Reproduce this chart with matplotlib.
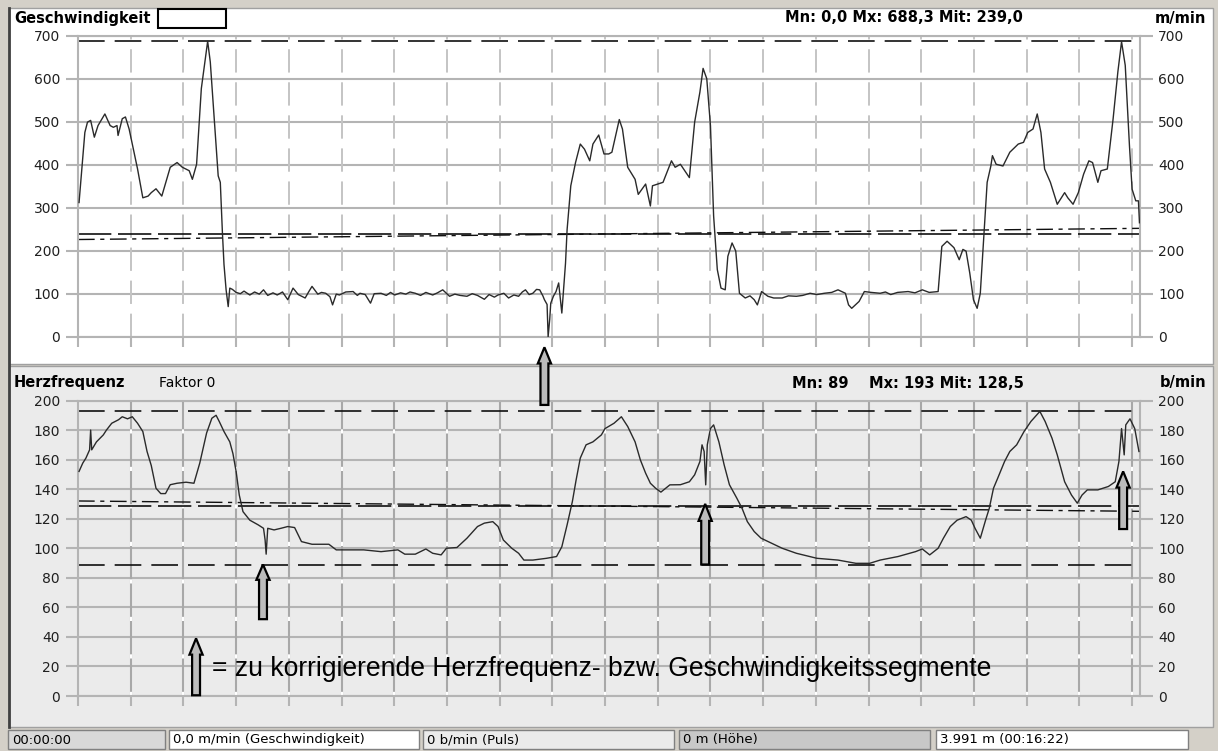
import numpy as np
import matplotlib.pyplot as plt
from matplotlib.patches import Rectangle, FancyArrow

# --- data (x in grid sections, 20 sections over the whole run) ---
speed_x = [0.02, 0.13, 0.18, 0.24, 0.31, 0.38, 0.51, 0.61, 0.67, 0.74, 0.76, 0.84, 0.90, 0.97,
           1.03, 1.13, 1.23, 1.33, 1.39, 1.48, 1.59, 1.75, 1.88, 1.98, 2.11, 2.17, 2.25, 2.34,
           2.46, 2.51, 2.66, 2.70, 2.74, 2.77, 2.81, 2.85, 2.88, 2.93, 3.00, 3.08, 3.15, 3.26,
           3.35, 3.44, 3.52, 3.60, 3.70, 3.78, 3.88, 3.98, 4.08, 4.18, 4.31, 4.38, 4.44, 4.55,
           4.62, 4.70, 4.78, 4.83, 4.90, 4.96, 5.08, 5.22, 5.30, 5.35, 5.45, 5.55, 5.62, 5.75,
           5.85, 5.93, 6.01, 6.12, 6.22, 6.30, 6.40, 6.50, 6.60, 6.73, 6.82, 6.92, 7.05, 7.15,
           7.25, 7.38, 7.48, 7.58, 7.71, 7.80, 7.90, 7.97, 8.08, 8.17, 8.27, 8.36, 8.43, 8.49,
           8.56, 8.63, 8.70, 8.76, 8.82, 8.85, 8.90, 8.92, 8.95, 8.97, 9.02, 9.07, 9.12, 9.18,
           9.25, 9.28, 9.35, 9.44, 9.53, 9.61, 9.71, 9.77, 9.88, 9.98, 10.07, 10.13, 10.27,
           10.33, 10.43, 10.57, 10.63, 10.77, 10.86, 10.90, 11.10, 11.26, 11.33, 11.43, 11.60,
           11.70, 11.80, 11.86, 11.93, 12.00, 12.06, 12.13, 12.20, 12.28, 12.33, 12.41, 12.48,
           12.55, 12.66, 12.75, 12.83, 12.89, 12.97, 13.09, 13.20, 13.36, 13.48, 13.63, 13.75,
           13.89, 14.02, 14.16, 14.30, 14.42, 14.56, 14.62, 14.68, 14.82, 14.92, 15.05, 15.22,
           15.32, 15.42, 15.55, 15.75, 15.88, 16.02, 16.15, 16.32, 16.39, 16.49, 16.62, 16.72,
           16.79, 16.85, 16.92, 16.99, 17.06, 17.12, 17.19, 17.25, 17.32, 17.35, 17.42, 17.55,
           17.68, 17.84, 17.94, 18.02, 18.12, 18.20, 18.27, 18.34, 18.45, 18.58, 18.72, 18.78,
           18.88, 18.98, 19.08, 19.18, 19.25, 19.35, 19.41, 19.53, 19.64, 19.73, 19.80, 19.87,
           19.95, 20.00, 20.07, 20.12, 20.14]
speed_v = [312, 475, 499, 503, 464, 491, 518, 491, 487, 491, 468, 507, 511, 483,
           448, 390, 323, 327, 335, 344, 327, 394, 405, 394, 386, 366, 401, 577,
           687, 639, 374, 359, 242, 168, 109, 70, 113, 110, 103, 100, 106, 97,
           104, 99, 109, 96, 102, 97, 104, 86, 113, 98, 90, 105, 117, 99,
           103, 101, 93, 74, 99, 97, 104, 105, 96, 101, 98, 78, 100, 101,
           96, 103, 97, 102, 99, 104, 101, 96, 103, 97, 102, 109, 94, 99,
           96, 94, 100, 96, 87, 98, 92, 97, 101, 90, 97, 94, 104, 109,
           98, 101, 110, 109, 95, 86, 75, 0, 40, 78, 94, 105, 125, 55,
           171, 249, 351, 405, 448, 436, 409, 448, 469, 425, 425, 429, 505,
           483, 394, 366, 331, 355, 304, 351, 359, 409, 394, 401, 370,
           499, 569, 624, 600, 491, 281, 156, 113, 109, 187, 218, 199,
           101, 90, 95, 86, 74, 105, 94, 90, 90, 95, 94, 96,
           101, 98, 101, 103, 109, 101, 74, 66, 82, 105, 103, 101,
           104, 98, 103, 105, 102, 109, 103, 105, 210, 222, 207, 179,
           203, 199, 148, 86, 66, 101, 242, 359, 397, 421, 401, 397,
           429, 448, 452, 475, 483, 518, 475, 390, 359, 308, 335, 323,
           308, 335, 378, 409, 405, 359, 386, 390, 507, 616, 686, 631,
           444, 343, 316, 316, 265]

hr_x = [0.02, 0.09, 0.15, 0.22, 0.24, 0.26, 0.35, 0.48, 0.54, 0.64, 0.77, 0.84, 0.94, 1.03,
        1.13, 1.23, 1.31, 1.39, 1.48, 1.57, 1.66, 1.75, 1.88, 2.05, 2.20, 2.31, 2.44, 2.54,
        2.62, 2.68, 2.77, 2.88, 2.94, 3.00, 3.06, 3.13, 3.26, 3.42, 3.52, 3.55, 3.57, 3.60,
        3.72, 3.85, 3.98, 4.11, 4.24, 4.44, 4.76, 4.90, 5.09, 5.42, 5.75, 6.07, 6.20, 6.40,
        6.60, 6.73, 6.89, 6.99, 7.19, 7.38, 7.58, 7.71, 7.87, 7.97, 8.07, 8.23, 8.36, 8.46,
        8.63, 8.89, 9.08, 9.18, 9.28, 9.38, 9.45, 9.53, 9.64, 9.77, 9.93, 10.00, 10.17,
        10.31, 10.43, 10.57, 10.67, 10.77, 10.86, 10.96, 11.06, 11.23, 11.43, 11.60, 11.70,
        11.80, 11.84, 11.88, 11.91, 11.94, 12.00, 12.06, 12.16, 12.26, 12.36, 12.50, 12.60,
        12.70, 12.83, 12.96, 13.16, 13.36, 13.63, 14.02, 14.42, 14.76, 15.02, 15.22, 15.56,
        15.89, 16.02, 16.16, 16.32, 16.42, 16.55, 16.68, 16.85, 16.95, 17.02, 17.12, 17.22,
        17.29, 17.37, 17.45, 17.58, 17.68, 17.81, 17.95, 18.08, 18.25, 18.35, 18.48, 18.58,
        18.72, 18.85, 18.96, 19.05, 19.15, 19.35, 19.55, 19.68, 19.75, 19.80, 19.85, 19.88,
        19.96, 20.05, 20.13]
hr_v = [152, 157.6, 161, 166.6, 180, 166.6, 172, 176.7, 180, 184.6, 187, 189, 187.6, 189,
        184.6, 179, 165.5, 156, 140.6, 137, 137, 143, 144, 144.7, 144, 157.6, 178, 188,
        190, 185.8, 179, 172, 164, 152, 136, 124.8, 119, 115.8, 113.5, 105.6, 96, 113.5,
        112.4, 113.5, 114.7, 114, 104.5, 102.7, 102.7, 98.9, 98.9, 98.9, 97.7, 98.9, 96, 96,
        99.5, 96.6, 95.5, 100, 100.5, 106.8, 114.7, 117, 118, 114.7, 105.6, 100, 96.6, 92,
        92, 93.2, 94.4, 101, 115.8, 131.6, 146, 161, 170, 172, 176.7, 181, 184.6,
        189, 182.4, 172, 159.8, 150.8, 144, 140.6, 138, 142.9, 143, 145, 149.7,
        158.7, 170, 165.5, 142.9, 170, 181, 183.5, 172, 156.4, 143, 133.9, 127,
        118, 111.3, 106.8, 103.4, 100, 96.6, 93.2, 92, 89.8, 89.8, 92, 94.4,
        97.7, 99.5, 95.5, 100, 106.8, 114.7, 119, 121.4, 119, 113.5, 106.8, 119,
        127, 140.6, 147.4, 158.7, 165.5, 170, 179, 185.8, 192.6, 185.8, 174.5, 163.2,
        145, 136, 130.5, 136, 139.5, 139.5, 141.8, 145, 158.7, 181, 163.2, 183.5,
        187.6, 181, 165.5]

speed_stats = {'mn': 0.0, 'mx': 688.3, 'mit': 239.0}
speed_trend = [226, 252]          # dash-dot trend line, start / end
hr_stats = {'mn': 89, 'mx': 193, 'mit': 128.5}
hr_trend = [132, 125]

# arrows, in data units of the lower axes (x section, tip, base)
arrow_x = [8.85, 3.51, 11.9, 19.83]
arrow_tip = [236, 89, 130, 152]
arrow_base = [197, 52, 89, 113]

W, H = 1218, 751
fig = plt.figure(figsize=(W / 100, H / 100), dpi=100)
fig.patch.set_facecolor('#d4d0c8')


def rect(l, t, r, b):
    return [l / W, 1 - b / H, (r - l) / W, (b - t) / H]


def box(l, t, r, b, fc, ec='#808080', lw=1.0):
    fig.patches.append(Rectangle((l / W, 1 - b / H), (r - l) / W, (b - t) / H,
                                 transform=fig.transFigure, facecolor=fc,
                                 edgecolor=ec, linewidth=lw, zorder=-2))


# panels
box(9, 8, 1213, 364, 'white', ec='#a0a0a0')
box(9, 366, 1213, 727, '#ebebeb', ec='#a0a0a0')
fig.lines.append(plt.Line2D([8.5 / W, 8.5 / W], [1 - 727 / H, 1 - 8 / H],
                            transform=fig.transFigure, color='#404040', lw=2))

ax1 = fig.add_axes(rect(78, 35.7, 1140, 336.7))
ax2 = fig.add_axes(rect(78, 400.5, 1140, 696))

gridc = '#b4b4b4'
for ax, ymax, step in [(ax1, 700, 100), (ax2, 200, 20)]:
    ax.set_facecolor('none')
    ax.set_xlim(0, 20.15)
    ax.set_ylim(0, ymax)
    ax.set_yticks(np.arange(0, ymax + 1, step))
    ax.set_xticks(np.arange(0, 21))
    ax.tick_params(axis='y', length=9, width=1.5, color=gridc, direction='out',
                   left=True, right=True, labelleft=True, labelright=True,
                   labelsize=10, pad=4, labelcolor='#202020')
    ax.tick_params(axis='x', length=7, width=1.5, color=gridc, direction='out',
                   labelbottom=False)
    for s in ax.spines.values():
        s.set_color(gridc)
        s.set_linewidth(1.5)
    for yv in np.arange(0, ymax + 1, step):
        ax.axhline(yv, color=gridc, lw=1.5, zorder=1)

for i in range(1, 21):
    ax1.axvline(i, color='#c4c4c4', lw=1.4, dashes=(12, 5), zorder=1)
    ax2.axvline(i, color='#a8a8a8', lw=1.5, zorder=1)
    ax2.axvline(i, color='white', lw=1.5, dashes=(2, 16), zorder=1)

# reference lines
dash_mm = (16, 6)
ax1.axhline(speed_stats['mx'], color='#101010', lw=1.2, dashes=dash_mm, zorder=2)
ax1.axhline(speed_stats['mn'], color='#101010', lw=1.2, dashes=dash_mm, zorder=2)
ax1.axhline(speed_stats['mit'], color='#101010', lw=1.2, dashes=(20, 4), zorder=2)
ax1.plot([0, 20.15], speed_trend, color='#101010', lw=1.0, dashes=(12, 4, 3, 4), zorder=2)
ax2.axhline(hr_stats['mx'], color='#101010', lw=1.2, dashes=dash_mm, zorder=2)
ax2.axhline(hr_stats['mn'], color='#101010', lw=1.2, dashes=dash_mm, zorder=2)
ax2.axhline(hr_stats['mit'], color='#101010', lw=1.2, dashes=(20, 4), zorder=2)
ax2.plot([0, 20.15], hr_trend, color='#101010', lw=1.0, dashes=(12, 4, 3, 4), zorder=2)

ax1.plot(speed_x, speed_v, color='#2a2a2a', lw=1.0, zorder=3)
ax2.plot(hr_x, hr_v, color='#2a2a2a', lw=1.0, zorder=3)

# arrows (lower axes data coords, allowed to leave the axes)
for xa, tip, base in zip(arrow_x, arrow_tip, arrow_base):
    hl = (tip - base) * 0.28
    a = FancyArrow(xa, base, 0, tip - base, width=0.15, head_width=0.25,
                   head_length=hl, length_includes_head=True,
                   facecolor='#bcbcbc', edgecolor='black', lw=1.6,
                   clip_on=False, zorder=6)
    ax2.add_patch(a)
legend_arrow = FancyArrow(2.24, 0.5, 0, 38.5, width=0.15, head_width=0.25,
                          head_length=11, length_includes_head=True,
                          facecolor='#bcbcbc', edgecolor='black', lw=1.6,
                          clip_on=False, zorder=6)
ax2.add_patch(legend_arrow)
ax2.text(2.55, 18, '= zu korrigierende Herzfrequenz- bzw. Geschwindigkeitssegmente',
         fontsize=19.1, family='Liberation Sans', va='center', ha='left', zorder=7)

# headers
hfs = 10.5
fig.text(14 / W, 1 - 18 / H, 'Geschwindigkeit', fontsize=hfs, fontweight='bold', va='center')
box(158, 9, 226, 28, 'white', ec='black', lw=1.5)
fig.text(785 / W, 1 - 18 / H, 'Mn: 0,0 Mx: 688,3 Mit: 239,0', fontsize=hfs,
         fontweight='bold', va='center')
fig.text(1206 / W, 1 - 18 / H, 'm/min', fontsize=hfs, fontweight='bold', va='center', ha='right')
fig.text(14 / W, 1 - 383 / H, 'Herzfrequenz', fontsize=hfs, fontweight='bold', va='center')
fig.text(159 / W, 1 - 383 / H, 'Faktor 0', fontsize=10, va='center')
fig.text(792 / W, 1 - 383 / H, 'Mn: 89    Mx: 193 Mit: 128,5', fontsize=hfs,
         fontweight='bold', va='center')
fig.text(1206 / W, 1 - 383 / H, 'b/min', fontsize=hfs, fontweight='bold', va='center', ha='right')

# status bar
fields = [(8, 165, '#d8d8d8', '00:00:00'),
          (169, 419, 'white', '0,0 m/min (Geschwindigkeit)'),
          (423, 674, '#ebebeb', '0 b/min (Puls)'),
          (679, 930, '#c8c8c8', '0 m (Höhe)'),
          (936, 1188, 'white', '3.991 m (00:16:22)')]
for l, r, fc, txt in fields:
    box(l, 730, r, 749, fc, ec='#808080')
    fig.text((l + 4) / W, 1 - 740 / H, txt, fontsize=9.5, va='center')

fig.savefig('out.png', dpi=100, facecolor=fig.get_facecolor())
